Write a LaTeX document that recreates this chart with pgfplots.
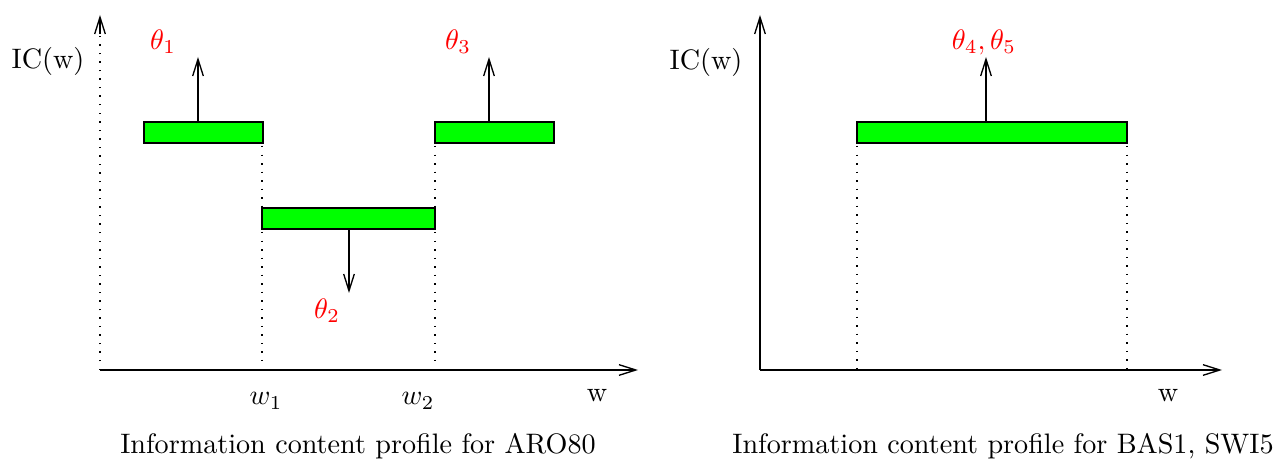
\documentclass[border=0pt]{standalone}
\usepackage{pgfplots}
\pgfplotsset{compat=1.18}
\usetikzlibrary{arrows.meta}
\definecolor{figgreen}{RGB}{0,255,0}
\definecolor{figred}{RGB}{255,0,0}
\begin{document}
\begin{tikzpicture}[
  barb/.style={-{Straight Barb[length=6.3pt,width=4pt]}, line width=0.5pt, black},
  dots/.style={dash pattern=on 0.55pt off 2.65pt, line width=0.55pt, black},
  bar/.style={fill=figgreen, draw=black, line width=0.55pt},
  lbl/.style={scale=1.056, inner sep=0pt},
]
\begin{axis}[
  scale only axis, width=479.25pt, height=173.25pt,
  xmin=0, xmax=1278, ymin=0, ymax=462, y dir=reverse,
  hide axis, clip=false,
]
% left panel axes
\addplot[dots] coordinates {(100,370) (100,33)};
\addplot[barb] coordinates {(100,34) (100,15)};
\addplot[barb] coordinates {(100,370) (638,370)};
% dotted guides
\addplot[dots] coordinates {(262,146) (262,208)};
\addplot[dots] coordinates {(262,232) (262,368)};
\addplot[dots] coordinates {(435,146) (435,208)};
\addplot[dots] coordinates {(435,232) (435,368)};
% bars
\addplot[bar] coordinates {(144,122) (263,122) (263,143) (144,143)} --cycle;
\addplot[bar] coordinates {(262,208) (435,208) (435,229) (262,229)} --cycle;
\addplot[bar] coordinates {(435,122) (554,122) (554,143) (435,143)} --cycle;
% arrows
\addplot[barb] coordinates {(198,122) (198,57)};
\addplot[barb] coordinates {(349,229) (349,293)};
\addplot[barb] coordinates {(489,122) (489,57)};
% right panel
\addplot[barb] coordinates {(760,370) (760,15)};
\addplot[barb] coordinates {(760,370) (1222,370)};
\addplot[dots] coordinates {(857,146) (857,368)};
\addplot[dots] coordinates {(1127,146) (1127,368)};
\addplot[bar] coordinates {(857,122) (1127,122) (1127,143) (857,143)} --cycle;
\addplot[barb] coordinates {(986,122) (986,57)};
% labels
\node[lbl,text=figred] at (axis cs:163,42) {$\theta_1$};
\node[lbl,text=figred] at (axis cs:458,42) {$\theta_3$};
\node[lbl,text=figred] at (axis cs:327,311) {$\theta_2$};
\node[lbl,text=figred] at (axis cs:984,42) {$\theta_4,\theta_5$};
\node[lbl] at (axis cs:48,61) {IC(w)};
\node[lbl] at (axis cs:706,62) {IC(w)};
\node[lbl] at (axis cs:266,401) {$w_1$};
\node[lbl] at (axis cs:418,401) {$w_2$};
\node[lbl] at (axis cs:597,396) {w};
\node[lbl] at (axis cs:1168,396) {w};
\node[lbl] at (axis cs:358,446) {Information content profile for ARO80};
\node[lbl] at (axis cs:1003,446) {Information content profile for BAS1, SWI5};
\path (rel axis cs:0,0) rectangle (rel axis cs:1,1);
\end{axis}
\end{tikzpicture}
\end{document}
